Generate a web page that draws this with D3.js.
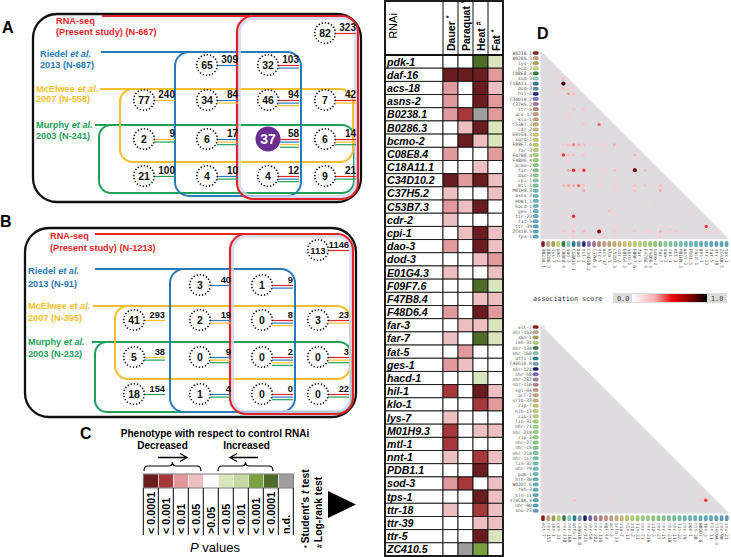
<!DOCTYPE html>
<html><head><meta charset="utf-8">
<script src="https://cdn.jsdelivr.net/npm/d3@7"></script>
<style>body{margin:0;background:#fff}svg{display:block}</style>
</head><body><svg id="c" width="731" height="557"></svg>
<script>
// ---------------- DATA ----------------
// Venn panels A and B (cells: column, row, set membership)
const vennCellCol = [3,1,2,0,1,2,3,0,1,2,3,0,1,2,3];
const vennCellRow = [0,1,1,2,2,2,2,3,3,3,3,4,4,4,4];
const vennCellSets = ["R","B","RB","Y","BY","RBY","RY","YG","BYG","RBYG","RYG","G","BG","RBG","RG"];
const vennInnerA = [82,65,32,77,34,46,7,2,6,37,6,21,4,4,9];
const vennTotalA = [323,309,103,240,84,94,42,9,17,58,14,100,10,12,21];
const vennInnerB = [113,3,1,41,2,0,3,5,0,0,0,18,1,0,0];
const vennTotalB = [1146,40,9,293,19,8,23,38,9,2,3,154,4,0,22];
const vennNames = ["RNA-seq","Riedel","McElwee","Murphy"];
const vennSubA = ["(Present study) (N-667)","2013 (N-687)","2007 (N-558)","2003 (N-241)"];
const vennSubB = ["(Present study) (N-1213)","2013 (N-91)","2007 (N-395)","2003 (N-232)"];

// Heatmap (levels: -4..-1 decreased, 0 n.s., 1..4 increased, 9 n.d.)
const genes = ["pdk-1","daf-16","acs-18","asns-2","B0238.1","B0286.3","bcmo-2","C08E8.4","C18A11.1","C34D10.2","C37H5.2","C53B7.3","cdr-2","cpi-1","dao-3","dod-3","E01G4.3","F09F7.6","F47B8.4","F48D6.4","far-3","far-7","fat-5","ges-1","hacd-1","hil-1","klo-1","lys-7","M01H9.3","mtl-1","nnt-1","PDB1.1","sod-3","tps-1","ttr-18","ttr-39","ttr-5","ZC410.5"];
const assays = ["Dauer","Paraquat","Heat","Fat"];
const assayMarks = ["*","*","#","*"];
const dauer    = [0,-4,-2,-2,-2,0,0,-2,0,-4,-1,-2,-1,0,-2,0,-1,0,0,-2,0,-1,0,-2,0,-3,0,-1,-3,-3,-1,0,-2,0,-1,0,0,0];
const paraquat = [0,-4,0,0,-3,-1,-4,0,0,-2,0,-1,0,-1,0,0,0,0,0,0,-1,0,-2,-1,0,0,0,0,0,0,0,0,-3,0,0,0,0,9];
const heat     = [4,-4,-4,-4,9,-4,-1,0,-1,-4,0,-4,0,-4,-4,-1,0,4,-1,-4,-1,4,0,0,1,-4,-3,0,-1,0,-3,-4,0,-4,-3,-1,-4,3];
const fat      = [1,-2,-1,-2,-2,1,1,-2,0,-1,-1,0,0,-1,-1,-2,-1,1,-1,-2,1,1,0,0,0,-1,-2,0,-1,0,-1,0,-1,-1,-1,-1,1,0];

// Legend C
const pLevels = [-4,-3,-2,-1,0,1,2,3,4,9];
const pLabels = ["< 0.0001","< 0.001","< 0.01","< 0.05",">0.05","< 0.05","< 0.01","< 0.001","< 0.0001","n.d."];

// Panel D
const dTopGenes = ["B0238.1","B0286.3","lys-7","pod-2","C08E8.4","sod-3","C18A11.1","dod-3","hil-1","C34D10.2","C37H5.2","ttr-5","acs-17","klo-1","C53B7.3","cdr-2","E01G4.3","sqrd-1","F09F7.6","far-3","F47B8.4","F48D6.4","bcmo-2","far-7","dao-3","cpi-1","mtl-1","M01H9.3","asns-2","PDB1.1","hacd-1","ges-1","ttr-23","fat-5","ttr-39","ZC410.5","tps-1"];
const dTopRow   = [5,5,6,6,7,7,7,8,8,8,11,11,12,13,14,14,18,18,18,18,18,18,18,18,20,20,20,20,20,21,21,23,23,23,23,23,23,23,23,23,24,25,25,25,26,26,26,26,26,26,26,26,26,26,27,27,27,27,27,29,30,31,31,31,32,32,32,32,32,34,34,34,34,35,35,35,35,35,35,35,35,35,35,35,35,35,35,35,36,36,36,36,36];
const dTopCol   = [3,4,4,5,4,5,6,3,5,6,6,8,5,5,8,11,4,5,6,7,8,11,12,14,4,5,6,8,18,5,18,5,6,7,8,11,12,14,18,20,1,11,14,18,4,5,6,7,8,11,14,18,20,23,5,8,14,18,23,1,21,5,13,29,4,6,14,18,23,6,14,25,32,4,5,6,8,11,14,18,20,21,23,25,26,27,32,34,6,9,12,14,23];
const dTopScore = [.2,.3,.95,.2,.3,.25,.25,.2,.4,.3,.25,.25,.2,.2,.25,.5,.25,.3,.45,.35,.3,.2,.2,.35,.6,.3,.3,.25,.3,.2,.2,.35,.65,.3,.6,.2,.2,.3,.9,.3,.2,.2,.2,.2,.3,.35,.35,.5,.3,.2,.2,.3,.3,.3,.2,.35,.2,.3,.35,.2,.15,.2,.3,.2,.2,.65,.2,.2,.2,.2,.2,.15,.6,.25,.2,.3,.3,.85,.25,.25,.2,.2,.35,.2,.25,.2,.2,.2,.25,.2,.2,.2,.25];
const dBotGenes = ["elt-7","nhr-153","skn-1","ceh-31","nhr-130","nhr-168","atfs-1","C46G10.8","nhr-121","nhr-58","nhr-282","nhr-116","egl-44","acl-2","srlb-33","zip-7","hlh-13","zip-2","lin-31","nhr-71","nhr-219","zip-3","nhr-27","nhr-15","nhr-218","nhr-117","lin-32","nhr-79","pqm-1","hlh-30","W02D7.6","fkh-3","hlh-11","Y74C9A.4","nhr-90","snu-23"];
const dBotRow   = [0,15,19,31,33,33,33,33];
const dBotCol   = [0,0,0,30,6,13,30,31];
const dBotScore = [.15,.15,.1,.2,.3,.2,.25,.6];
const dTopTags = ["#7b1f28","#c9a27e","#b3a255","#c8d67a","#3f7f3f","#8fd0c0","#2f7f8f","#6f8faf","#1f2f6f","#7f6fbf","#a07890","#b8867a","#c49a7a","#c8a67a","#c8ae70","#ccb86e","#d2c66e","#c8cc6a","#bccf68","#b4d070","#a8d070","#9ccc74","#90c878","#84c47c","#8ccc90","#80c8a0","#78c4a8","#70c0b0","#6cbcb4","#68b8b8","#64b4bc","#60b0c0","#60b0c0","#5cacc0","#58a8c0","#5aa8b8","#60a8b8"];
const dBotTags = ["#8b1a1a","#c8a080","#a8a050","#b0d070","#3a803a","#80c8b8","#2a8080","#70a0c0","#1a2060","#7060b0","#a08090","#b88080","#c09080","#c0a080","#c8b080","#c8c070","#c0c870","#b8d070","#a8d070","#a0d080","#98d080","#90cc80","#88c888","#80c890","#78c498","#70c0a0","#70c0a8","#68bcb0","#68b8b4","#64b4b8","#60b0bc","#60acbc","#5ca8bc","#58a4b8","#5ca0b8","#6098b8"];

// ---------------- DRAW ----------------
const F = "'Liberation Sans', Arial, Helvetica, sans-serif";
const MONO = "'DejaVu Sans Mono', monospace";
const svg = d3.select("#c");
svg.append("rect").attr("width",731).attr("height",557).attr("fill","#fff");

const panelLab = (t,x,y)=>svg.append("text").attr("x",x).attr("y",y).text(t)
  .attr("font-family",F).attr("font-weight","bold").attr("font-size",16).attr("fill","#000");
panelLab("A",2,33); panelLab("B",0,227); panelLab("C",80,439); panelLab("D",537,39);

const vennColor = {R:"#e2242b", B:"#2a7ab8", Y:"#f4bf2e", G:"#21a05a"};
const setKeys = ["R","B","Y","G"];

const cfgA = {outer:[33,14,361,202], R:[237,16,358,199], B:[175,52,301,196], Y:[120,89,353,162], G:[99,125,354,193],
  leads:{R:[102,250,16], B:[101,190,52], Y:[100,132,89], G:[95,112,125]},
  labX:[56,40,36,36], labY:[[24,35],[57,68],[92,102],[128,139]],
  cols:[144,207,268,325], rows:[33,65,100,139,176], totSize:10};
const cfgB = {outer:[25,228,356,417], R:[230,234,353,414], B:[170,269,295,412], Y:[115,306,350,379], G:[95,342,351,412],
  leads:{R:[95,245,234], B:[95,185,269], Y:[93,128,306], G:[92,108,342]},
  labX:[50,28,28,28], labY:[[239,251],[274,287],[309,321],[345,357]],
  cols:[134,200,262,318], rows:[250,285,320,357,394], totSize:9.3};

function rr(g, b, color, w, r){
  return g.append("rect").attr("x",b[0]).attr("y",b[1]).attr("width",b[2]-b[0]).attr("height",b[3]-b[1])
    .attr("rx",r).attr("ry",r).attr("fill","none").attr("stroke",color).attr("stroke-width",w);
}

function venn(cfg, inner, total, subs, highlight){
  const g = svg.append("g");
  const xs = d3.scaleOrdinal().domain([0,1,2,3]).range(cfg.cols);
  const ys = d3.scaleOrdinal().domain([0,1,2,3,4]).range(cfg.rows);
  rr(g, cfg.outer, "#111", 2.3, 24);
  rr(g, cfg.G, vennColor.G, 2, 12);
  rr(g, cfg.Y, vennColor.Y, 2, 13);
  rr(g, cfg.B, vennColor.B, 2, 14);
  const R = cfg.R;
  rr(g, [R[0]+2.5,R[1]+2.5,R[2]-2.5,R[3]-2.5], "#d3d6f4", 3, 14).attr("opacity",0.8);
  rr(g, R, vennColor.R, 2.2, 16);
  setKeys.forEach(k=>{
    const l = cfg.leads[k];
    g.append("line").attr("x1",l[0]).attr("x2",l[1]).attr("y1",l[2]).attr("y2",l[2])
      .attr("stroke",vennColor[k]).attr("stroke-width",2);
  });
  setKeys.forEach((k,i)=>{
    const t1 = g.append("text").attr("x",cfg.labX[i]).attr("y",cfg.labY[i][0])
      .attr("font-family",F).attr("font-weight","bold").attr("font-size",9.2).attr("fill",vennColor[k]);
    t1.append("tspan").text(vennNames[i] + (i>0?" ":""));
    if(i>0) t1.append("tspan").attr("font-style","italic").text("et al.");
    g.append("text").attr("x",cfg.labX[i]).attr("y",cfg.labY[i][1]).text(subs[i])
      .attr("font-family",F).attr("font-weight","bold").attr("font-size",9.2).attr("fill",vennColor[k]);
  });
  inner.forEach((v,i)=>{
    const cx = xs(vennCellCol[i]), cy = ys(vennCellRow[i]);
    const hl = (i===highlight);
    const r = hl ? 12.5 : 10.3;
    const sets = setKeys.filter(k=>vennCellSets[i].includes(k));
    sets.forEach((k,j)=>{
      g.append("line").attr("x1",cx+r-0.5).attr("x2",cx+31).attr("y1",cy+0.5+j*2.6).attr("y2",cy+0.5+j*2.6)
        .attr("stroke",vennColor[k]).attr("stroke-width",1.2);
    });
    if(hl){
      g.append("circle").attr("cx",cx).attr("cy",cy).attr("r",r).attr("fill","#6a2d90");
      g.append("text").attr("x",cx).attr("y",cy+5).attr("text-anchor","middle").text(v)
        .attr("font-family",F).attr("font-weight","bold").attr("font-size",14).attr("fill","#fff");
    } else {
      g.append("circle").attr("cx",cx).attr("cy",cy).attr("r",r).attr("fill","#fff")
        .attr("stroke","#111").attr("stroke-width",1.6).attr("stroke-dasharray","1.3 1.9");
      g.append("text").attr("x",cx).attr("y",cy+3.7).attr("text-anchor","middle").text(v)
        .attr("font-family",F).attr("font-weight","bold").attr("font-size",String(v).length>2?9.5:10.5).attr("fill","#111");
    }
    g.append("text").attr("x",cx+31).attr("y",cy-1.8).attr("text-anchor","end").text(total[i])
      .attr("font-family",F).attr("font-weight","bold").attr("font-size",cfg.totSize).attr("fill","#111");
  });
}
venn(cfgA, vennInnerA, vennTotalA, vennSubA, 9);
venn(cfgB, vennInnerB, vennTotalB, vennSubB, -1);

// ---------------- Heatmap ----------------
const levelColor = {"-4":"#6b1c1f","-3":"#a6383b","-2":"#e09a9c","-1":"#eebfc0","0":"#ffffff","1":"#d8e5bd","2":"#c7d9a2","3":"#7aa13f","4":"#4d6c29","9":"#9e9e9e"};
const hm = svg.append("g");
const yB = d3.scaleBand().domain(genes).range([55, 556]);
const xB = d3.scaleBand().domain(assays).range([443, 503]);
const hmData = [dauer, paraquat, heat, fat];
genes.forEach((gname,i)=>{
  hm.append("rect").attr("x",385).attr("y",yB(gname)).attr("width",58).attr("height",yB.bandwidth())
    .attr("fill","#fff").attr("stroke","#111").attr("stroke-width",0.9);
  hm.append("text").attr("x",387).attr("y",yB(gname)+yB.bandwidth()/2+4).text(gname)
    .attr("font-family",F).attr("font-weight","bold").attr("font-style","italic").attr("font-size",10.6).attr("fill","#000");
  assays.forEach((a,j)=>{
    hm.append("rect").attr("x",xB(a)).attr("y",yB(gname)).attr("width",xB.bandwidth()).attr("height",yB.bandwidth())
      .attr("fill",levelColor[hmData[j][i]]).attr("stroke","#111").attr("stroke-width",0.9);
  });
});
// header
hm.append("rect").attr("x",385).attr("y",1).attr("width",118).attr("height",54).attr("fill","none").attr("stroke","#111").attr("stroke-width",1);
assays.forEach((a,j)=>{
  hm.append("line").attr("x1",xB(a)).attr("x2",xB(a)).attr("y1",1).attr("y2",55).attr("stroke","#111").attr("stroke-width",1);
  const t = hm.append("text").attr("transform",`translate(${xB(a)+xB.bandwidth()/2+4},51) rotate(-90)`)
    .attr("font-family",F).attr("font-weight","bold").attr("font-size",10.5).attr("fill","#000");
  t.append("tspan").text(a+" ");
  t.append("tspan").attr("font-size",7).attr("dy",-4).text(assayMarks[j]);
});
hm.append("text").attr("transform","translate(397,26) rotate(-90)").attr("text-anchor","middle").text("RNAi")
  .attr("font-family",F).attr("font-size",11).attr("fill","#000");
hm.append("line").attr("x1",385).attr("x2",503).attr("y1",55).attr("y2",55).attr("stroke","#111").attr("stroke-width",2);
hm.append("rect").attr("x",385).attr("y",1).attr("width",118).attr("height",555).attr("fill","none").attr("stroke","#111").attr("stroke-width",1.8);

// ---------------- Panel C ----------------
const pc = svg.append("g");
const tC = (txt,x,y,sz,w,anchor)=>pc.append("text").attr("x",x).attr("y",y).text(txt).attr("font-family",F)
  .attr("font-size",sz).attr("font-weight",w).attr("text-anchor",anchor||"middle").attr("fill","#000");
tC("Phenotype  with respect  to control RNAi",215,437,10,"bold");
tC("Decreased",162.5,449,10,"bold");
tC("Increased",246.5,449,10,"bold");
pc.append("path").attr("d","M158,457.5 H186 M180,453.5 L187,457.5 L180,461.5").attr("fill","none").attr("stroke","#000").attr("stroke-width",1.3);
pc.append("path").attr("d","M258,457.5 H231 M237,453.5 L230,457.5 L237,461.5").attr("fill","none").attr("stroke","#000").attr("stroke-width",1.3);
const brace = (a,b)=>{const m=(a+b)/2; return `M${a},471 Q${a},466 ${a+4},466 H${m-4} Q${m},466 ${m},462 Q${m},466 ${m+4},466 H${b-4} Q${b},466 ${b},471`;};
pc.append("path").attr("d",brace(144,201)).attr("fill","none").attr("stroke","#000").attr("stroke-width",1.2);
pc.append("path").attr("d",brace(218,273)).attr("fill","none").attr("stroke","#000").attr("stroke-width",1.2);
const xC = d3.scaleBand().domain(d3.range(pLevels.length)).range([143.3, 293.3]);
pLevels.forEach((lv,i)=>{
  pc.append("rect").attr("x",xC(i)).attr("y",474).attr("width",xC.bandwidth()).attr("height",14)
    .attr("fill",levelColor[lv]).attr("stroke","#fff").attr("stroke-width",0.6);
  pc.append("text").attr("transform",`translate(${xC(i)+xC.bandwidth()/2+4},534) rotate(-90)`).text(pLabels[i])
    .attr("font-family",F).attr("font-weight","bold").attr("font-size",10.8).attr("fill","#000");
});
pc.append("rect").attr("x",143.3).attr("y",474).attr("width",150).attr("height",14).attr("fill","none").attr("stroke","#555").attr("stroke-width",0.8);
d3.range(pLevels.length+1).forEach(i=>{
  const x = 143.3 + i*xC.bandwidth();
  pc.append("line").attr("x1",x).attr("x2",x).attr("y1",488).attr("y2",535).attr("stroke","#000").attr("stroke-width",1);
});
const pv = pc.append("text").attr("x",215).attr("y",552).attr("text-anchor","middle").attr("font-family",F).attr("font-size",13).attr("fill","#000");
pv.append("tspan").attr("font-style","italic").text("P");
pv.append("tspan").text(" values");
const st = pc.append("text").attr("transform","translate(309,548) rotate(-90)").attr("font-family",F).attr("font-weight","bold").attr("font-size",10.3).attr("fill","#000");
st.append("tspan").attr("font-size",7).text("* ");
st.append("tspan").text("Student's ");
st.append("tspan").attr("font-style","italic").text("t");
st.append("tspan").text(" test");
const lr = pc.append("text").attr("transform","translate(322,548) rotate(-90)").attr("font-family",F).attr("font-weight","bold").attr("font-size",10.3).attr("fill","#000");
lr.append("tspan").attr("font-size",7).text("# ");
lr.append("tspan").text("Log-rank test");
pc.append("polygon").attr("points","328,491 328,518 356,504.5").attr("fill","#000");

// ---------------- Panel D ----------------
const dColor = d3.scaleLinear().domain([0,0.3,0.6,0.85,1]).range(["#ffffff","#f3b9c0","#e83a3a","#8a0000","#000000"]);
function tri(gnames, tags, rowsA, colsA, scores, x0, y0, s){
  const g = svg.append("g");
  const n = gnames.length;
  const L = x0 - s/2, T = y0 - s/2, B = T + n*s, R = L + n*s;
  const band = d3.scaleBand().domain(d3.range(n)).range([0, n*s]);
  const cx = i => L + band(i) + s/2, cy = i => T + band(i) + s/2;
  g.append("polygon").attr("points",`${L},${T} ${L},${B} ${R},${B}`).attr("fill","#dedcdf");
  gnames.forEach((nm,i)=>{
    g.append("text").attr("x",L-8.5).attr("y",cy(i)+1.6).attr("text-anchor","end").text(nm)
      .attr("font-family",MONO).attr("font-size",4.6).attr("fill","#555");
    g.append("rect").attr("x",L-7.5).attr("y",cy(i)-1.6).attr("width",5.5).attr("height",3.2).attr("rx",1.5)
      .attr("fill",tags[i]).attr("stroke",d3.color(tags[i]).darker(0.9)).attr("stroke-width",0.4);
    g.append("rect").attr("x",cx(i)-1.6).attr("y",B+2).attr("width",3.2).attr("height",5.5).attr("rx",1.5)
      .attr("fill",tags[i]).attr("stroke",d3.color(tags[i]).darker(0.9)).attr("stroke-width",0.4);
    g.append("text").attr("transform",`translate(${cx(i)-1.5},${B+9.5}) rotate(90)`).text(nm)
      .attr("font-family",MONO).attr("font-size",4.6).attr("fill","#555");
  });
  scores.forEach((v,k)=>{
    const x = cx(colsA[k]), y = cy(rowsA[k]);
    const r = 0.9 + v*1.3;
    g.append("circle").attr("cx",x).attr("cy",y).attr("r",r+0.9).attr("fill","#f6d0d6").attr("opacity",0.7);
    g.append("circle").attr("cx",x).attr("cy",y).attr("r",r).attr("fill",dColor(v));
  });
}
tri(dTopGenes, dTopTags, dTopRow, dTopCol, dTopScore, 543, 53, 5.1);
tri(dBotGenes, dBotTags, dBotRow, dBotCol, dBotScore, 543, 327, 5.25);

// legend
const defs = svg.append("defs");
const grad = defs.append("linearGradient").attr("id","asg");
[[0,"#ffffff"],[0.3,"#f4b0b4"],[0.55,"#e80000"],[0.8,"#7a0000"],[1,"#000000"]].forEach(d=>
  grad.append("stop").attr("offset",d[0]).attr("stop-color",d[1]));
svg.append("text").attr("x",533).attr("y",300.5).text("association score").attr("font-family",MONO).attr("font-size",6.8).attr("fill","#333");
svg.append("rect").attr("x",613).attr("y",293).attr("width",114).attr("height",10).attr("fill","#dcdcdc");
svg.append("rect").attr("x",632).attr("y",294).attr("width",75).attr("height",8).attr("fill","url(#asg)");
svg.append("text").attr("x",617).attr("y",300.5).text("0.0").attr("font-family",MONO).attr("font-size",6.8).attr("fill","#444");
svg.append("text").attr("x",711).attr("y",300.5).text("1.0").attr("font-family",MONO).attr("font-size",6.8).attr("fill","#444");
</script></body></html>
